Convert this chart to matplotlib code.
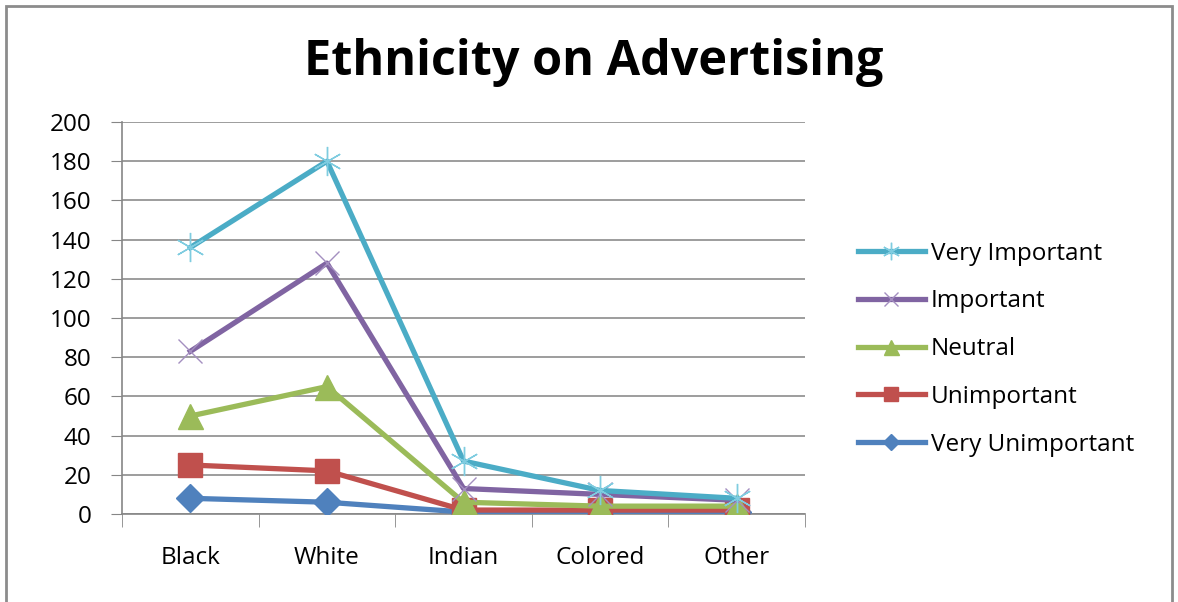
import matplotlib.pyplot as plt
from matplotlib.patches import Rectangle

plt.rcParams['font.family'] = ['Open Sans', 'DejaVu Sans']

categories = ["Black", "White", "Indian", "Colored", "Other"]

very_important = [136, 180, 27, 12, 8]
important = [83, 128, 13, 10, 7]
neutral = [50, 65, 6, 4, 4]
unimportant = [25, 22, 2, 2, 2]
very_unimportant = [8, 6, 1, 1, 1]

yticks = list(range(0, 201, 20))

fig = plt.figure(figsize=(11.78, 6.02), dpi=100)
ax = fig.add_axes([0.1036, 0.1462, 0.5798, 0.6511])

# outer chart frame
fig.patches.append(Rectangle((0.005, -0.05), 0.99, 1.04, transform=fig.transFigure,
                             fill=False, edgecolor="#8c8c8c", linewidth=2))

x = list(range(len(categories)))

# drawn bottom series first so the top series sit on top
series = [
    ("Very Unimportant", very_unimportant, "#4F81BD", dict(marker="D", markersize=14)),
    ("Unimportant", unimportant, "#C0504D", dict(marker="s", markersize=17)),
    ("Neutral", neutral, "#9BBB59", dict(marker="^", markersize=18)),
    ("Important", important, "#8064A2", dict(marker="x", markersize=17, markeredgewidth=1,
                                              markeredgecolor="#a48fc0")),
    ("Very Important", very_important, "#4BACC6", dict(marker=(6, 2, 0), markersize=21,
                                                       markeredgewidth=1, markeredgecolor="#7fcce0")),
]

handles = []
for name, vals, color, mk in series:
    h, = ax.plot(x, vals, color=color, linewidth=3.8, label=name, zorder=3, **mk)
    handles.append(h)

ax.set_xlim(-0.5, len(categories) - 0.5)
ax.set_ylim(0, 200)
ax.set_yticks(yticks)
ax.set_xticks(x)
ax.set_xticklabels(categories)
ax.set_xticks([i - 0.5 for i in range(len(categories) + 1)], minor=True)
ax.tick_params(axis="x", which="major", length=0, pad=23, labelsize=17.5)
ax.tick_params(axis="x", which="minor", length=9, color="#868686", direction="out")
ax.tick_params(axis="y", length=8, color="#868686", labelsize=17.5, pad=14)

ax.grid(axis="y", color="#8c8c8c", linewidth=1.2)
ax.set_axisbelow(True)
for side in ["top", "right"]:
    ax.spines[side].set_visible(False)
for side in ["left", "bottom"]:
    ax.spines[side].set_color("#868686")
    ax.spines[side].set_linewidth(1.2)

fig.text(0.504, 0.876, "Ethnicity on Advertising", ha="center", va="baseline",
         fontsize=35, fontweight="bold")

fig.legend(handles[::-1], [h.get_label() for h in handles[::-1]],
           loc="center left", bbox_to_anchor=(0.72, 0.42), frameon=False,
           fontsize=17.5, handlelength=2.75, handletextpad=0.25, labelspacing=0.98,
           borderaxespad=0, markerscale=0.6)

fig.savefig("out.png", dpi=100)
